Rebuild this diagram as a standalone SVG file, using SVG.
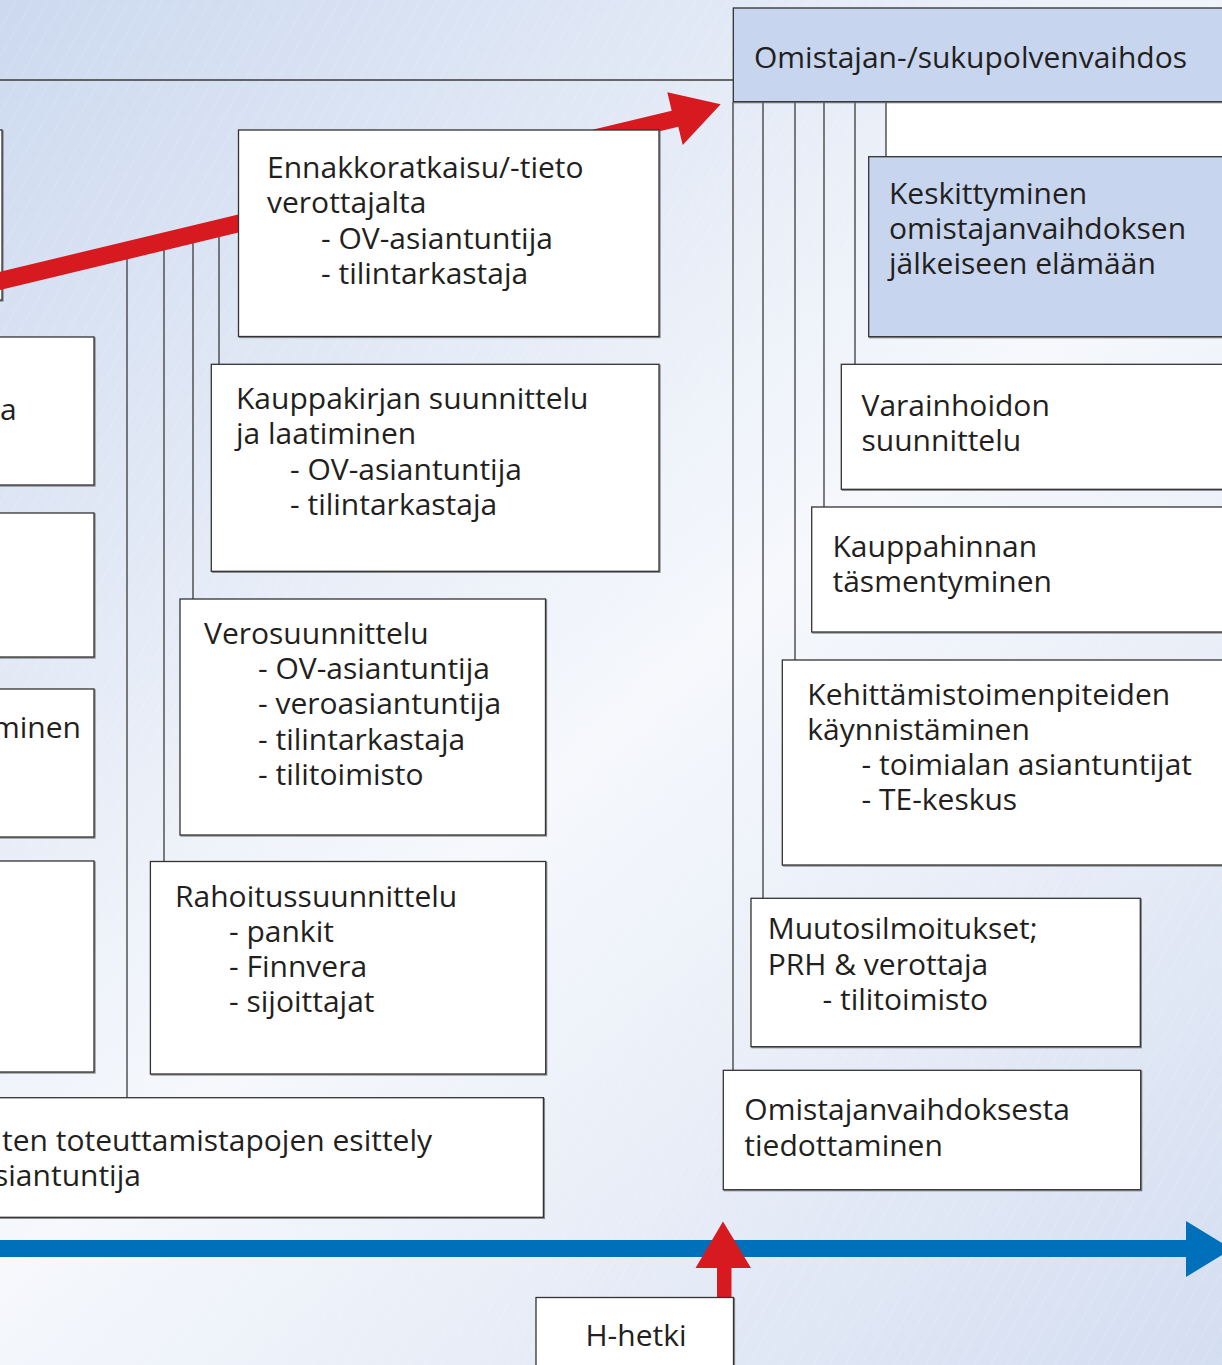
<svg xmlns="http://www.w3.org/2000/svg" width="1222" height="1365" viewBox="0 0 1222 1365">
<defs>
<linearGradient id="bg" gradientUnits="userSpaceOnUse" x1="0" y1="0" x2="1222" y2="1365">
<stop offset="0" stop-color="#CCD9EF"/>
<stop offset="0.52" stop-color="#F6F8FC"/>
<stop offset="1" stop-color="#D4DEF1"/>
</linearGradient>
<pattern id="hatch" width="14" height="14" patternUnits="userSpaceOnUse" patternTransform="rotate(30)">
<line x1="0" y1="0" x2="0" y2="14" stroke="#ffffff" stroke-opacity="0.35" stroke-width="0.8"/>
</pattern>
<filter id="sh" x="-5%" y="-5%" width="110%" height="110%">
<feDropShadow dx="1" dy="1" stdDeviation="0.4" flood-color="#6f6f6f" flood-opacity="0.8"/>
</filter>
</defs>
<style>
.box{fill:#ffffff;stroke:#333333;stroke-width:1.3;filter:url(#sh)}
.hl{fill:#C7D5EE}
.ln{stroke:#3a3a3a;stroke-width:1.3;fill:none}
.t{font-family:'Open Sans','Noto Sans',sans-serif;font-size:30px;fill:#231F20}
.red{fill:#D71920}
.blue{fill:#0070BA}
</style>
<rect x="0" y="0" width="1222" height="1365" fill="url(#bg)"/>
<rect x="0" y="0" width="1222" height="1365" fill="url(#hatch)"/>
<rect x="886" y="102" width="336" height="55" fill="#ffffff"/>

<g id="connectors">
<line class="ln" x1="0" y1="80" x2="733" y2="80"/>
<line class="ln" x1="127" y1="248" x2="127" y2="1098"/>
<line class="ln" x1="164" y1="240" x2="164" y2="861"/>
<line class="ln" x1="193" y1="233" x2="193" y2="599"/>
<line class="ln" x1="219" y1="227" x2="219" y2="364"/>
<line class="ln" x1="733" y1="102" x2="733" y2="1070"/>
<line class="ln" x1="763" y1="102" x2="763" y2="898"/>
<line class="ln" x1="795" y1="102" x2="795" y2="660"/>
<line class="ln" x1="824" y1="102" x2="824" y2="507"/>
<line class="ln" x1="855" y1="102" x2="855" y2="364"/>
<line class="ln" x1="886" y1="102" x2="886" y2="157"/>
</g>

<g id="node-left-top"><rect class="box" x="-50" y="130" width="52" height="170"/></g>
<g id="node-left-1"><rect class="box" x="-50" y="337" width="144" height="148"/><text class="t" x="0" y="420">a</text></g>
<g id="node-left-2"><rect class="box" x="-50" y="513" width="144" height="144"/></g>
<g id="node-left-3"><rect class="box" x="-50" y="689" width="144" height="148"/><text class="t" x="-8" y="738">minen</text></g>
<g id="node-left-4"><rect class="box" x="-50" y="861" width="144" height="211"/></g>

<g id="red-arrow">
<polygon class="red" points="-5,272.9 671.7,110.7 667.3,92.3 720.7,104.3 682.7,145 678.3,126.7 -5,291.2"/>
</g>

<g id="node-ennakko">
<rect class="box" x="238.5" y="130" width="420.5" height="206.5"/>
<text class="t" x="267" y="178">Ennakkoratkaisu/-tieto</text>
<text class="t" x="267" y="213">verottajalta</text>
<text class="t" x="321" y="249">- OV-asiantuntija</text>
<text class="t" x="321" y="284">- tilintarkastaja</text>
</g>

<g id="node-kauppakirja">
<rect class="box" x="211.3" y="364.3" width="447.7" height="207"/>
<text class="t" x="236" y="409">Kauppakirjan suunnittelu</text>
<text class="t" x="236" y="444">ja laatiminen</text>
<text class="t" x="290" y="480">- OV-asiantuntija</text>
<text class="t" x="290" y="515">- tilintarkastaja</text>
</g>

<g id="node-vero">
<rect class="box" x="180" y="599" width="365.5" height="236"/>
<text class="t" x="204" y="644">Verosuunnittelu</text>
<text class="t" x="258" y="679">- OV-asiantuntija</text>
<text class="t" x="258" y="714">- veroasiantuntija</text>
<text class="t" x="258" y="750">- tilintarkastaja</text>
<text class="t" x="258" y="785">- tilitoimisto</text>
</g>

<g id="node-rahoitus">
<rect class="box" x="150.4" y="861.5" width="395.3" height="212.5"/>
<text class="t" x="175" y="906.5">Rahoitussuunnittelu</text>
<text class="t" x="229" y="941.5">- pankit</text>
<text class="t" x="229" y="977">- Finnvera</text>
<text class="t" x="229" y="1012">- sijoittajat</text>
</g>

<g id="node-toteutus">
<rect class="box" x="-50" y="1097.7" width="593.4" height="119.6"/>
<text class="t" x="2" y="1151">ten toteuttamistapojen esittely</text>
<text class="t" x="-6" y="1186">siantuntija</text>
</g>

<g id="node-header">
<rect class="box hl" x="733.3" y="8" width="520" height="93.7"/>
<text class="t" x="754" y="68">Omistajan-/sukupolvenvaihdos</text>
</g>

<g id="node-keskittyminen">
<rect class="box hl" x="868.7" y="156.7" width="380" height="180"/>
<text class="t" x="889" y="204">Keskittyminen</text>
<text class="t" x="889" y="239">omistajanvaihdoksen</text>
<text class="t" x="889" y="274">jälkeiseen elämään</text>
</g>

<g id="node-varainhoito">
<rect class="box" x="841.3" y="364.3" width="400" height="125"/>
<text class="t" x="861.5" y="415.5">Varainhoidon</text>
<text class="t" x="861.5" y="450.5">suunnittelu</text>
</g>

<g id="node-kauppahinta">
<rect class="box" x="811.7" y="507" width="430" height="125"/>
<text class="t" x="832.5" y="556.5">Kauppahinnan</text>
<text class="t" x="832.5" y="591.5">täsmentyminen</text>
</g>

<g id="node-kehittaminen">
<rect class="box" x="782.3" y="660" width="460" height="205"/>
<text class="t" x="807.3" y="705">Kehittämistoimenpiteiden</text>
<text class="t" x="807.3" y="740">käynnistäminen</text>
<text class="t" x="861.5" y="775">- toimialan asiantuntijat</text>
<text class="t" x="861.5" y="810">- TE-keskus</text>
</g>

<g id="node-muutos">
<rect class="box" x="751" y="898.3" width="389.3" height="148.4"/>
<text class="t" x="767.7" y="939">Muutosilmoitukset;</text>
<text class="t" x="767.7" y="974.5">PRH &amp; verottaja</text>
<text class="t" x="822.5" y="1010">- tilitoimisto</text>
</g>

<g id="node-tiedottaminen">
<rect class="box" x="723.3" y="1070.3" width="417.4" height="119.4"/>
<text class="t" x="744.3" y="1120">Omistajanvaihdoksesta</text>
<text class="t" x="744.3" y="1156">tiedottaminen</text>
</g>

<g id="time-axis">
<polygon class="blue" points="-10,1240 1186,1240 1186,1221 1232,1249 1186,1277 1186,1257 -10,1257"/>
</g>

<g id="h-arrow">
<polygon class="red" points="717,1298 717,1268 695.5,1268 723,1221.5 751,1268 731.5,1268 731.5,1298"/>
</g>

<g id="node-hhetki">
<rect class="box" x="536" y="1297.5" width="197.5" height="90"/>
<text class="t" x="636" y="1346" text-anchor="middle">H-hetki</text>
</g>
</svg>
